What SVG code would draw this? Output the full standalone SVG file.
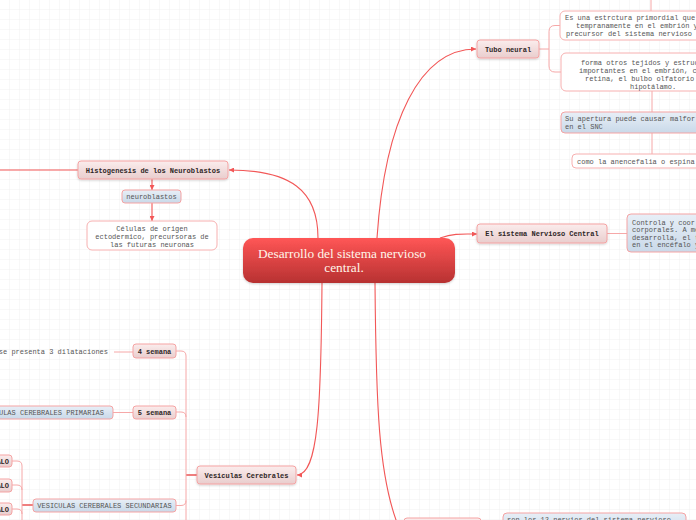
<svg xmlns="http://www.w3.org/2000/svg" width="696" height="520" viewBox="0 0 696 520">
<style>
.b{font-family:"Liberation Mono",monospace;font-weight:bold;font-size:7px;fill:#2e2626}
.r{font-family:"Liberation Mono",monospace;font-size:7px;fill:#555}
.pk{fill:url(#gp);stroke:#f5a3a3;stroke-width:1}
.bl{fill:url(#gb);stroke:#f5a3a3;stroke-width:1}
.wh{fill:#fff;stroke:#f7b0b0;stroke-width:1}
.main{fill:none;stroke:#f25757;stroke-width:1.1}
.br{fill:none;stroke:#f6a8a8;stroke-width:1}
.dk{fill:none;stroke:#e84848;stroke-width:1.4}
.ct{font-family:"Liberation Serif",serif;font-size:13.3px;fill:#fff6ea}
</style>
<defs>
<pattern id="grid" width="10" height="10" patternUnits="userSpaceOnUse">
<path d="M10,0 V10 H0" fill="none" stroke="#f1f1f1" stroke-width="1"/>
</pattern>
<linearGradient id="gp" x1="0" y1="0" x2="0" y2="1"><stop offset="0" stop-color="#fbeded"/><stop offset="1" stop-color="#e9cdcd"/></linearGradient>
<linearGradient id="gb" x1="0" y1="0" x2="0" y2="1"><stop offset="0" stop-color="#e8eff7"/><stop offset="1" stop-color="#c9d9e9"/></linearGradient>
<linearGradient id="gc" x1="0" y1="0" x2="0" y2="1"><stop offset="0" stop-color="#ff5656"/><stop offset="1" stop-color="#b73131"/></linearGradient>
<marker id="ar" viewBox="0 0 6 6" refX="6" refY="3" markerWidth="5" markerHeight="5" orient="auto" markerUnits="userSpaceOnUse">
<path d="M0,0 L6,3 L0,6 z" fill="#f25757"/>
</marker>
<filter id="sh" x="-10%" y="-20%" width="120%" height="150%"><feDropShadow dx="0" dy="1" stdDeviation="0.8" flood-color="#000" flood-opacity="0.18"/></filter>
</defs>
<rect width="696" height="520" fill="#fff"/>
<rect width="696" height="520" fill="url(#grid)"/>

<g id="connectors">
<path class="main" d="M377,238 C385,120 420,49 476,49" marker-end="url(#ar)"/>
<path class="main" d="M318,238 C318,190 290,170 229,170" marker-end="url(#ar)"/>
<path class="main" d="M440,238 C455,233 462,234 477,234" marker-end="url(#ar)"/>
<path class="main" d="M322,283 C321,410 318,475 297,475" marker-end="url(#ar)"/>
<path class="main" d="M375,283 C376,400 378,480 400,530"/>
<path class="main" d="M0,170 H78"/>
<path class="main" d="M152,179 V190" marker-end="url(#ar)"/>
<path class="main" d="M152,203 V221" marker-end="url(#ar)"/>
<path class="br" d="M539,49 H549 M560,25.5 H555 Q549,25.5 549,31.5 V66 Q549,72 555,72 H561"/>
<path class="br" d="M651,0 V11 M652,91 V112 M652,133 V154"/>
<path class="br" d="M607,233.5 H627"/>
<path class="dk" d="M186,475 H197"/>
<path class="br" d="M176,351 H181 Q186,351 186,356 V525 M176,412 H181 Q186,412 186,417 M176,505.5 H181 Q186,505.5 186,500.5"/>
<path class="br" d="M133,352 H114 M133,412.5 H113"/>
<path class="dk" d="M22,505 H33"/>
<path class="br" d="M12,461 H17 Q22,461 22,466 V525 M12,485 H17 Q22,485 22,490 M12,509 H17 Q22,509 22,514"/>
</g>

<g id="center">
<rect x="243" y="238" width="212" height="45" rx="10" fill="url(#gc)" filter="url(#sh)"/>
<text class="ct" x="342" y="257.5" text-anchor="middle">Desarrollo del sistema nervioso</text>
<text class="ct" x="344" y="271.5" text-anchor="middle">central.</text>
</g>

<g id="tubo-neural">
<rect class="pk" x="477" y="40" width="62" height="18" rx="3" filter="url(#sh)"/>
<text class="b" x="508" y="51.5" text-anchor="middle">Tubo neural</text>
</g>
<g id="tubo-def">
<rect class="wh" x="560" y="11" width="150" height="29" rx="5"/>
<text class="r" x="565" y="20">Es una estrctura primordial que</text>
<text class="r" x="576" y="28">tempranamente en el embrión y</text>
<text class="r" x="566" y="36">precursor del sistema nervioso</text>
</g>
<g id="tubo-forma">
<rect class="wh" x="561" y="53" width="150" height="38" rx="5"/>
<text class="r" x="581" y="65">forma otros tejidos y estruc</text>
<text class="r" x="579" y="73">importantes en el embrión, c</text>
<text class="r" x="585" y="81">retina, el bulbo olfatorio</text>
<text class="r" x="630" y="89">hipotálamo.</text>
</g>
<g id="tubo-apertura">
<rect class="bl" x="561" y="112" width="150" height="21" rx="4"/>
<text class="r" x="565" y="121">Su apertura puede causar malfor</text>
<text class="r" x="565" y="129">en el SNC</text>
</g>
<g id="tubo-anencefalia">
<rect class="wh" x="572" y="154" width="140" height="14" rx="4"/>
<text class="r" x="577" y="163.5">como la anencefalia o espina</text>
</g>

<g id="snc">
<rect class="pk" x="477" y="224" width="130" height="19" rx="3" filter="url(#sh)"/>
<text class="b" x="542" y="236" text-anchor="middle">El sistema Nervioso Central</text>
</g>
<g id="snc-def">
<rect class="bl" x="627" y="214" width="90" height="38" rx="4"/>
<text class="r" x="632" y="224.5">Controla y coor</text>
<text class="r" x="632" y="232">corporales. A me</text>
<text class="r" x="632" y="239.5">desarrolla, el t</text>
<text class="r" x="632" y="247">en el encéfalo y</text>
</g>

<g id="histogenesis">
<rect class="pk" x="78" y="161" width="150" height="18" rx="3" filter="url(#sh)"/>
<text class="b" x="153" y="172.5" text-anchor="middle">Histogenesis de los Neuroblastos</text>
</g>
<g id="neuroblastos">
<rect class="bl" x="122" y="190" width="59" height="13" rx="3"/>
<text class="r" x="151.5" y="199" text-anchor="middle">neuroblastos</text>
</g>
<g id="celulas">
<rect class="wh" x="87" y="221" width="130" height="29" rx="5"/>
<text class="r" x="152" y="230.5" text-anchor="middle">Células de origen</text>
<text class="r" x="152" y="238.5" text-anchor="middle">ectodermico, precursoras de</text>
<text class="r" x="152" y="246.5" text-anchor="middle">las futuras neuronas</text>
</g>

<g id="vesiculas">
<rect class="pk" x="197" y="466" width="99" height="18" rx="3" filter="url(#sh)"/>
<text class="b" x="246.5" y="477.5" text-anchor="middle">Vesiculas Cerebrales</text>
</g>
<g id="semana4">
<rect class="pk" x="133" y="344" width="43" height="14" rx="3"/>
<text class="b" x="154.5" y="353.5" text-anchor="middle">4 semana</text>
</g>
<g id="dilataciones">
<text class="r" x="108" y="354" text-anchor="end">se presenta 3 dilataciones</text>
</g>
<g id="semana5">
<rect class="pk" x="133" y="406" width="43" height="13" rx="3"/>
<text class="b" x="154.5" y="415" text-anchor="middle">5 semana</text>
</g>
<g id="primarias">
<rect class="bl" x="-40" y="406" width="153" height="13" rx="3"/>
<text class="r" x="104" y="415" text-anchor="end">VESICULAS CEREBRALES PRIMARIAS</text>
</g>
<g id="secundarias">
<rect class="bl" x="33" y="499" width="143" height="13" rx="3"/>
<text class="r" x="104.5" y="508" text-anchor="middle">VESICULAS CEREBRALES SECUNDARIAS</text>
</g>
<g id="vesicula-1">
<rect class="pk" x="-60" y="455" width="72" height="12" rx="3"/>
<text class="b" x="9" y="463.5" text-anchor="end">TELENCEFALO</text>
</g>
<g id="vesicula-2">
<rect class="pk" x="-60" y="479" width="72" height="13" rx="3"/>
<text class="b" x="9" y="488" text-anchor="end">DIENCEFALO</text>
</g>
<g id="vesicula-3">
<rect class="pk" x="-60" y="503" width="72" height="12" rx="3"/>
<text class="b" x="9" y="511.5" text-anchor="end">MESENCEFALO</text>
</g>

<g id="bottom-node">
<rect class="pk" x="404" y="518" width="77" height="18" rx="3"/>
</g>
<g id="bottom-def">
<rect class="bl" x="503" y="513" width="183" height="20" rx="4"/>
<text class="r" x="507" y="522">son los 12 nervios del sistema nervioso</text>
</g>
</svg>
